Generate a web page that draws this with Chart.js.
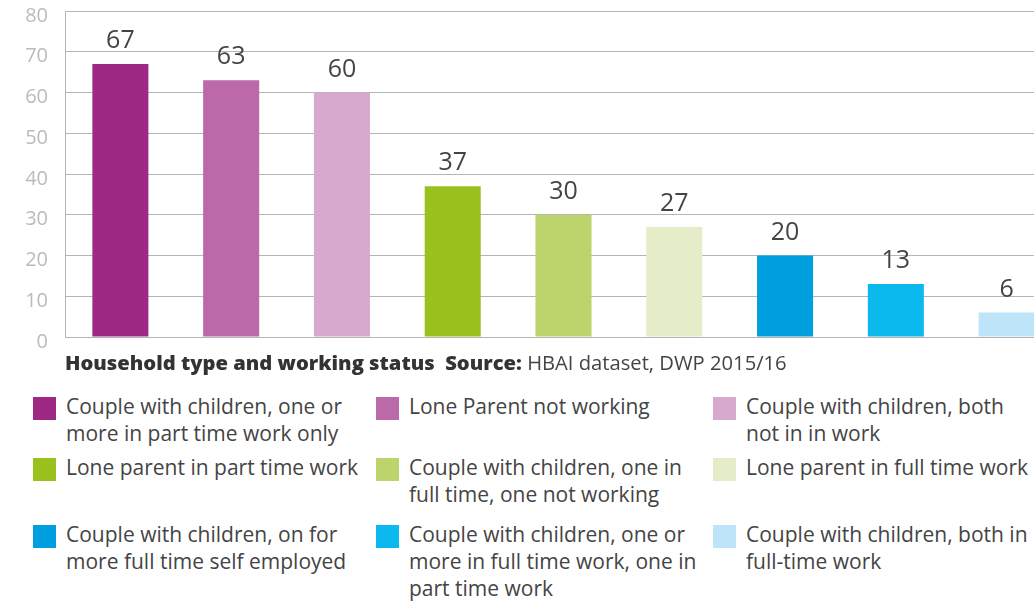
<!DOCTYPE html>
<html>
<head>
<meta charset="utf-8">
<script src="https://cdn.jsdelivr.net/npm/chart.js@4.4.1/dist/chart.umd.min.js"></script>
<style>
  html, body { margin:0; padding:0; background:#fff; overflow:hidden; width:1034px; height:601px; }
  #wrap { position:absolute; left:0; top:-18px; width:1062px; height:384px; }
  #title { position:absolute; left:65px; top:348px; font-family:"Open Sans", sans-serif; font-size:20.2px; color:#444; white-space:nowrap; }
  #title b { font-weight:800; color:#333; }
  .leg { position:absolute; font-family:"Open Sans", sans-serif; font-size:21px; line-height:27px; color:#444; white-space:nowrap; }
  .sw { position:absolute; width:23px; height:23px; }
</style>
</head>
<body>
<div id="wrap"><canvas id="c" width="1062" height="384"></canvas></div>
<div id="title"><b>Household type and working status</b>&nbsp; <b>Source:</b> HBAI dataset, DWP 2015/16</div>
<div id="legend"></div>
<script>
const categories = [
  "Couple with children, one or more in part time work only",
  "Lone Parent not working",
  "Couple with children, both not in in work",
  "Lone parent in part time work",
  "Couple with children, one in full time, one not working",
  "Lone parent in full time work",
  "Couple with children, on for more full time self employed",
  "Couple with children, one or more in full time work, one in part time work",
  "Couple with children, both in full-time work"
];
const legendLines = [
  ["Couple with children, one or", "more in part time work only"],
  ["Lone Parent not working"],
  ["Couple with children, both", "not in in work"],
  ["Lone parent in part time work"],
  ["Couple with children, one in", "full time, one not working"],
  ["Lone parent in full time work"],
  ["Couple with children, on for", "more full time self employed"],
  ["Couple with children, one or", "more in full time work, one in", "part time work"],
  ["Couple with children, both in", "full-time work"]
];
const values = [67, 63, 60, 37, 30, 27, 20, 13, 6];
const colors = ["#9e2985", "#bb69a9", "#d8a9cf", "#9bc11e", "#bdd46c", "#e5edc8", "#009fe0", "#0bb9ef", "#bde4f9"];
const yTicks = [0, 10, 20, 30, 40, 50, 60, 70, 80];

// legend (HTML)
const legCols = [33, 376, 713];
const legRows = [397, 458, 525];
const legEl = document.getElementById('legend');
legendLines.forEach((lines, i) => {
  const col = i % 3, row = Math.floor(i / 3);
  const sw = document.createElement('div');
  sw.className = 'sw';
  sw.style.left = legCols[col] + 'px';
  sw.style.top = legRows[row] + 'px';
  sw.style.background = colors[i];
  legEl.appendChild(sw);
  const t = document.createElement('div');
  t.className = 'leg';
  t.style.left = (legCols[col] + 33) + 'px';
  t.style.top = (legRows[row] - 4) + 'px';
  t.innerHTML = lines.join('<br>');
  legEl.appendChild(t);
});

const valueLabels = {
  id: 'valueLabels',
  afterDatasetsDraw(chart) {
    const ctx = chart.ctx;
    const meta = chart.getDatasetMeta(0);
    ctx.save();
    ctx.font = '25px "Open Sans", sans-serif';
    ctx.fillStyle = '#444';
    ctx.textAlign = 'center';
    ctx.textBaseline = 'alphabetic';
    meta.data.forEach((bar, i) => {
      ctx.fillText(String(values[i]), bar.x, bar.y - 16);
    });
    ctx.restore();
  }
};

new Chart(document.getElementById('c'), {
  type: 'bar',
  data: {
    labels: categories,
    datasets: [{ data: values, backgroundColor: colors, borderWidth: 0, barPercentage: 0.506, categoryPercentage: 1 }]
  },
  options: {
    responsive: false,
    animation: false,
    layout: { padding: { top: 0, bottom: 20, right: 0, left: 0 } },
    plugins: { legend: { display: false }, tooltip: { enabled: false } },
    scales: {
      x: { display: false },
      y: {
        min: 0, max: 80,
        afterBuildTicks(axis) { axis.ticks = yTicks.map(v => ({ value: v })); },
        afterFit(axis) { axis.width = 65; },
        grid: { color: '#b5b5b5', lineWidth: 1, drawTicks: false },
        border: { color: '#b5b5b5', width: 1 },
        ticks: { color: '#bbbbbb', font: { family: '"Open Sans", sans-serif', size: 20 }, padding: 17, labelOffset: 5 }
      }
    }
  },
  plugins: [valueLabels]
});
</script>
</body>
</html>
